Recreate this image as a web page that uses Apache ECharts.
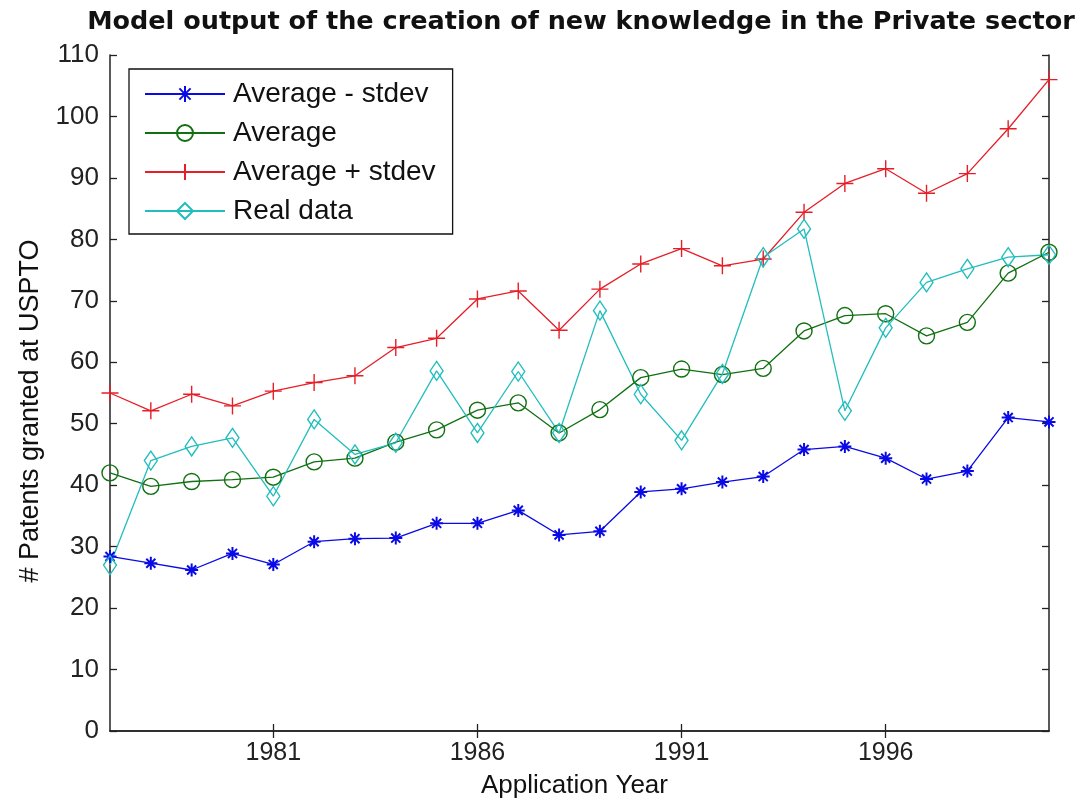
<!DOCTYPE html>
<html>
<head>
<meta charset="utf-8">
<script src="https://cdn.jsdelivr.net/npm/echarts@6/dist/echarts.min.js"></script>
<style>
html,body{margin:0;padding:0;background:#fff;}
#chart{width:1088px;height:805px;}
</style>
</head>
<body>
<div id="chart"></div>
<script>
const years = ['1977','1978','1979','1980','1981','1982','1983','1984','1985','1986','1987','1988','1989','1990','1991','1992','1993','1994','1995','1996','1997','1998','1999','2000'];
const avgMinusStdev = [28.4, 27.3, 26.2, 28.9, 27.1, 30.8, 31.3, 31.4, 33.8, 33.8, 35.9, 31.9, 32.5, 38.9, 39.4, 40.5, 41.4, 45.8, 46.3, 44.4, 41.0, 42.3, 51.0, 50.3];
const average = [42.0, 39.8, 40.6, 40.9, 41.3, 43.8, 44.4, 47.0, 49.0, 52.2, 53.4, 48.5, 52.3, 57.5, 58.9, 58.0, 59.0, 65.1, 67.6, 67.9, 64.3, 66.5, 74.5, 77.9];
const avgPlusStdev = [55.0, 52.1, 54.8, 52.9, 55.3, 56.7, 57.8, 62.4, 63.9, 70.3, 71.6, 65.2, 71.9, 76.0, 78.5, 75.7, 76.8, 84.4, 89.1, 91.5, 87.5, 90.7, 98.0, 106.0];
const realData = [27.0, 44.0, 46.3, 47.7, 38.2, 50.7, 45.0, 46.9, 58.6, 48.5, 58.5, 48.5, 68.4, 54.8, 47.3, 58.1, 77.1, 81.7, 52.1, 65.6, 73.0, 75.2, 77.1, 77.5];
const seriesNames = ['Average - stdev', 'Average', 'Average + stdev', 'Real data'];
const tickYears = ['1981','1986','1991','1996'];

const FONT = "'Liberation Sans', Arial, Helvetica, sans-serif";
const showTick = (i, v) => tickYears.indexOf(v) >= 0;

const asterisk = 'path://M5,0L5,10M0,5L10,5M1.5,1.5L8.5,8.5M8.5,1.5L1.5,8.5';
const plus = 'path://M5,0L5,10M0,5L10,5';

function mkSeries(name, data, color, symbol, size, bw) {
  return {
    name: name, type: 'line', data: data,
    symbol: symbol, symbolSize: size, showAllSymbol: true,
    lineStyle: {color: color, width: 1.3},
    itemStyle: {color: 'rgba(0,0,0,0)', borderColor: color, borderWidth: bw},
    emphasis: {disabled: true},
    animation: false
  };
}

const chart = echarts.init(document.getElementById('chart'), null, {renderer: 'canvas'});
const axisLineStyle = {color: '#222', width: 1.5};
chart.setOption({
  backgroundColor: '#fff',
  animation: false,
  title: {
    text: 'Model output of the creation of new knowledge in the Private sector',
    left: 576, top: 4, textAlign: 'center',
    textStyle: {fontFamily: "'DejaVu Sans', " + FONT, fontWeight: 'bold', fontSize: 25.5, color: '#111'}
  },
  grid: {left: 110, right: 39, top: 55, bottom: 74, containLabel: false},
  legend: {
    orient: 'vertical', left: 129, top: 69,
    itemWidth: 80, itemHeight: 20, itemGap: 11,
    padding: [11, 17, 9, 15],
    borderColor: '#111', borderWidth: 1.3, backgroundColor: '#fff',
    textStyle: {fontFamily: FONT, fontSize: 28, color: '#111', padding: [0, 0, 0, 3]},
    data: seriesNames
  },
  xAxis: [{
    type: 'category', data: years, boundaryGap: false,
    name: 'Application Year', nameLocation: 'middle', nameGap: 42,
    nameTextStyle: {fontFamily: FONT, fontSize: 26, color: '#111', padding: [0, 10, 0, 0]},
    axisLine: {lineStyle: axisLineStyle},
    axisTick: {inside: true, length: 7, interval: showTick, lineStyle: {color: '#222', width: 1.3}},
    axisLabel: {interval: showTick, fontFamily: FONT, fontSize: 25, color: '#222', margin: 10},
    splitLine: {show: false}
  }, {
    type: 'category', data: years, boundaryGap: false, position: 'top',
    axisLine: {lineStyle: axisLineStyle},
    axisTick: {inside: true, length: 7, interval: showTick, lineStyle: {color: '#222', width: 1.3}},
    axisLabel: {show: false}, splitLine: {show: false}
  }],
  yAxis: [{
    type: 'value', min: 0, max: 110, interval: 10,
    name: '# Patents granted at USPTO', nameLocation: 'middle', nameGap: 66,
    nameTextStyle: {fontFamily: FONT, fontSize: 27, color: '#111', padding: [0, 36, 0, 0]},
    axisLine: {show: true, lineStyle: axisLineStyle},
    axisTick: {show: true, inside: true, length: 7, lineStyle: {color: '#222', width: 1.3}},
    axisLabel: {fontFamily: FONT, fontSize: 26, color: '#222', margin: 11},
    splitLine: {show: false}
  }, {
    type: 'value', min: 0, max: 110, interval: 10, position: 'right',
    axisLine: {show: true, lineStyle: axisLineStyle},
    axisTick: {show: true, inside: true, length: 7, lineStyle: {color: '#222', width: 1.3}},
    axisLabel: {show: false}, splitLine: {show: false}
  }],
  series: [
    mkSeries(seriesNames[0], avgMinusStdev, '#0a0ae6', asterisk, 13, 2),
    mkSeries(seriesNames[1], average, '#117011', 'circle', 16, 1.4),
    mkSeries(seriesNames[2], avgPlusStdev, '#e61e28', plus, 17, 1.4),
    mkSeries(seriesNames[3], realData, '#22bdbd', 'diamond', [13, 19], 1.4)
  ]
});
</script>
</body>
</html>
